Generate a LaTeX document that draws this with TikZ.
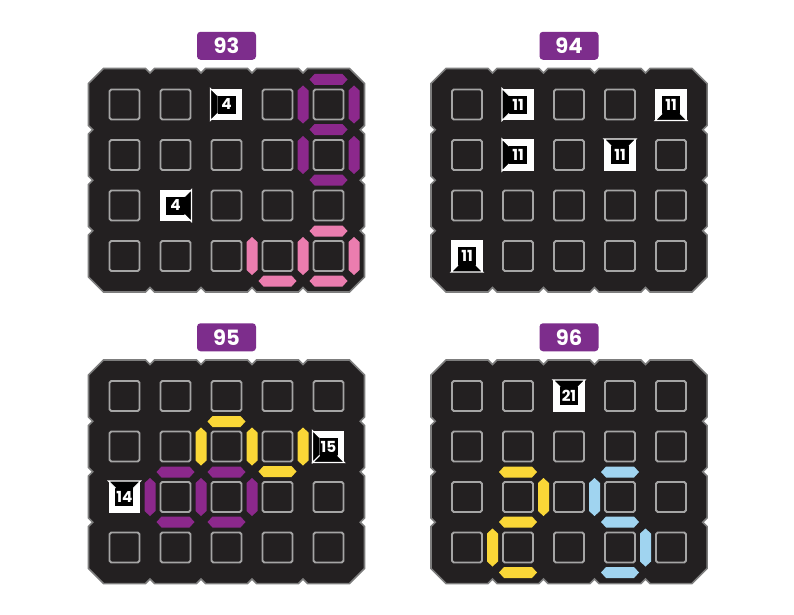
\documentclass[tikz,border=0pt]{standalone}
\usepackage{fontspec}
\setmainfont{Poppins}
\usepackage{tikz}
\usetikzlibrary{positioning, calc, backgrounds, matrix}
\definecolor{boardfill}{RGB}{35,32,33}
\definecolor{boardedge}{RGB}{125,125,125}
\definecolor{cellgray}{RGB}{165,165,165}
\definecolor{tagpurple}{RGB}{125,45,140}
\definecolor{segpurple}{RGB}{140,40,140}
\definecolor{segpink}{RGB}{235,125,175}
\definecolor{segyellow}{RGB}{250,215,55}
\definecolor{segblue}{RGB}{160,212,240}

\tikzset{
  cell/.style={draw=cellgray, line width=1.6pt, rounded corners=1.5pt, fill=boardfill, minimum size=0.9cm, inner sep=0pt, outer sep=0pt, anchor=center},
  clue/.style={draw=white, fill=white, text=white, sharp corners, font=\fontsize{13}{13}\selectfont\bfseries,
    path picture={\fill[black] ([shift={(6,6)}]path picture bounding box.north west) rectangle ([shift={(-6,-6)}]path picture bounding box.south east);}},
  tag/.style={fill=tagpurple, text=white, rounded corners=3pt, minimum width=1.77cm, minimum height=0.84cm, inner sep=0pt, font=\fontsize{18}{18}\selectfont\bfseries},
  board/.style={matrix of nodes, nodes={cell}, nodes in empty cells, inner sep=0pt, column sep={1.53cm,between origins}, row sep={1.515cm,between origins}, ampersand replacement=\&},
  % outline of the 5x4 board, round its centre
  boardshape/.pic={\path[pic actions] (-138,-96.75) -- ++(15,-15)
      foreach \i in {1,...,4} {-- ++(42,0) -- ++(4.5,4.5) -- ++(4.5,-4.5)} -- ++(42,0) -- ++(15,15)
      foreach \i in {1,...,3} {-- ++(0,42) -- ++(-4.25,4.25) -- ++(4.25,4.25)} -- ++(0,42) -- ++(-15,15)
      foreach \i in {1,...,4} {-- ++(-42,0) -- ++(-4.5,-4.5) -- ++(-4.5,4.5)} -- ++(-42,0) -- ++(-15,-15)
      foreach \i in {1,...,3} {-- ++(0,-42) -- ++(4.25,-4.25) -- ++(-4.25,-4.25)} -- cycle;},
  hbar/.pic={\path[pic actions] (-19,0) -- (-14,-5.5) -- (14,-5.5) -- (19,0) -- (14,5.5) -- (-14,5.5) -- cycle;},
  vbar/.pic={\path[pic actions] (0,-19) -- (-5.5,-14) -- (-5.5,14) -- (0,19) -- (5.5,14) -- (5.5,-14) -- cycle;},
  offside/.pic={\fill[black] (-16,-16) -- (16,-16) -- (9,-9) -- (-9,-9) -- cycle;
    \draw[white, line width=0.9pt] (-9,-9) -- (-16,-16) -- (16,-16) -- (9,-9);}
}

\begin{document}
\begin{tikzpicture}[x=0.03cm, y=-0.03cm]
    \useasboundingbox (0,0) rectangle (794,614);
    % Boards
    \matrix[board] (m93) at (226.5,180.25) {
         \& \& |[clue]| 4 \& \& \\
         \& \& \& \& \\
         \& |[clue]| 4 \& \& \& \\
         \& \& \& \& \\
    };
    \matrix[board] (m94) at (569,180.25) {
         \& |[clue]| 11 \& \& \& |[clue]| 11 \\
         \& |[clue]| 11 \& \& |[clue]| 11 \& \\
         \& \& \& \& \\
        |[clue]| 11 \& \& \& \& \\
    };
    \matrix[board] (m95) at (226.5,471.75) {
         \& \& \& \& \\
         \& \& \& \& |[clue]| 15 \\
        |[clue]| 14 \& \& \& \& \\
         \& \& \& \& \\
    };
    \matrix[board] (m96) at (569,471.75) {
         \& \& |[clue]| 21 \& \& \\
         \& \& \& \& \\
         \& \& \& \& \\
         \& \& \& \& \\
    };
    % Puzzle numbers
    \foreach \b in {93,94,95,96}
        \node[tag, above=0.885cm of m\b-1-3] (t\b) {\b};
    % Board outlines
    \begin{scope}[on background layer]
        \fill[white] (0,0) rectangle (794,614);
        \foreach \b in {93,94,95,96}
            \pic[fill=boardfill, draw=boardedge, line width=1.3pt] at (m\b-2-3 |- m\b) {boardshape};
    \end{scope}
    % Dark sides of the clues
    \foreach \n/\a in {93-1-3/90, 93-3-2/-90, 94-1-2/90, 94-1-5/180, 94-2-2/90, 94-2-4/0, 94-4-1/180, 95-2-5/90, 95-2-5/180, 95-3-1/0, 96-1-3/0}
        \pic[rotate=\a] at (m\n) {offside};
    % Segments, 93
    \foreach \n/\dx/\dy in {1-5/0/-25, 1-5/0/25, 2-5/0/25}
        \pic[fill=segpurple] at ($(m93-\n)+(\dx,\dy)$) {hbar};
    \foreach \n/\dx/\dy in {1-5/-25.5/0, 1-5/25.5/0, 2-5/-25.5/0, 2-5/25.5/0}
        \pic[fill=segpurple] at ($(m93-\n)+(\dx,\dy)$) {vbar};
    \foreach \n/\dx/\dy in {4-5/0/-25, 4-4/0/25, 4-5/0/25}
        \pic[fill=segpink] at ($(m93-\n)+(\dx,\dy)$) {hbar};
    \foreach \n/\dx/\dy in {4-4/-25.5/0, 4-4/25.5/0, 4-5/25.5/0}
        \pic[fill=segpink] at ($(m93-\n)+(\dx,\dy)$) {vbar};
    % Segments, 95
    \foreach \n/\dx/\dy in {2-3/0/-25, 2-4/0/25}
        \pic[fill=segyellow] at ($(m95-\n)+(\dx,\dy)$) {hbar};
    \foreach \n/\dx/\dy in {2-3/-25.5/0, 2-3/25.5/0, 2-4/25.5/0}
        \pic[fill=segyellow] at ($(m95-\n)+(\dx,\dy)$) {vbar};
    \foreach \n/\dx/\dy in {3-2/0/-25, 3-3/0/-25, 3-2/0/25, 3-3/0/25}
        \pic[fill=segpurple] at ($(m95-\n)+(\dx,\dy)$) {hbar};
    \foreach \n/\dx/\dy in {3-2/-25.5/0, 3-2/25.5/0, 3-3/25.5/0}
        \pic[fill=segpurple] at ($(m95-\n)+(\dx,\dy)$) {vbar};
    % Segments, 96
    \foreach \n/\dx/\dy in {3-2/0/-25, 3-2/0/25, 4-2/0/25}
        \pic[fill=segyellow] at ($(m96-\n)+(\dx,\dy)$) {hbar};
    \foreach \n/\dx/\dy in {3-2/25.5/0, 4-2/-25.5/0}
        \pic[fill=segyellow] at ($(m96-\n)+(\dx,\dy)$) {vbar};
    \foreach \n/\dx/\dy in {3-4/0/-25, 3-4/0/25, 4-4/0/25}
        \pic[fill=segblue] at ($(m96-\n)+(\dx,\dy)$) {hbar};
    \foreach \n/\dx/\dy in {3-4/-25.5/0, 4-4/25.5/0}
        \pic[fill=segblue] at ($(m96-\n)+(\dx,\dy)$) {vbar};
\end{tikzpicture}
\end{document}
